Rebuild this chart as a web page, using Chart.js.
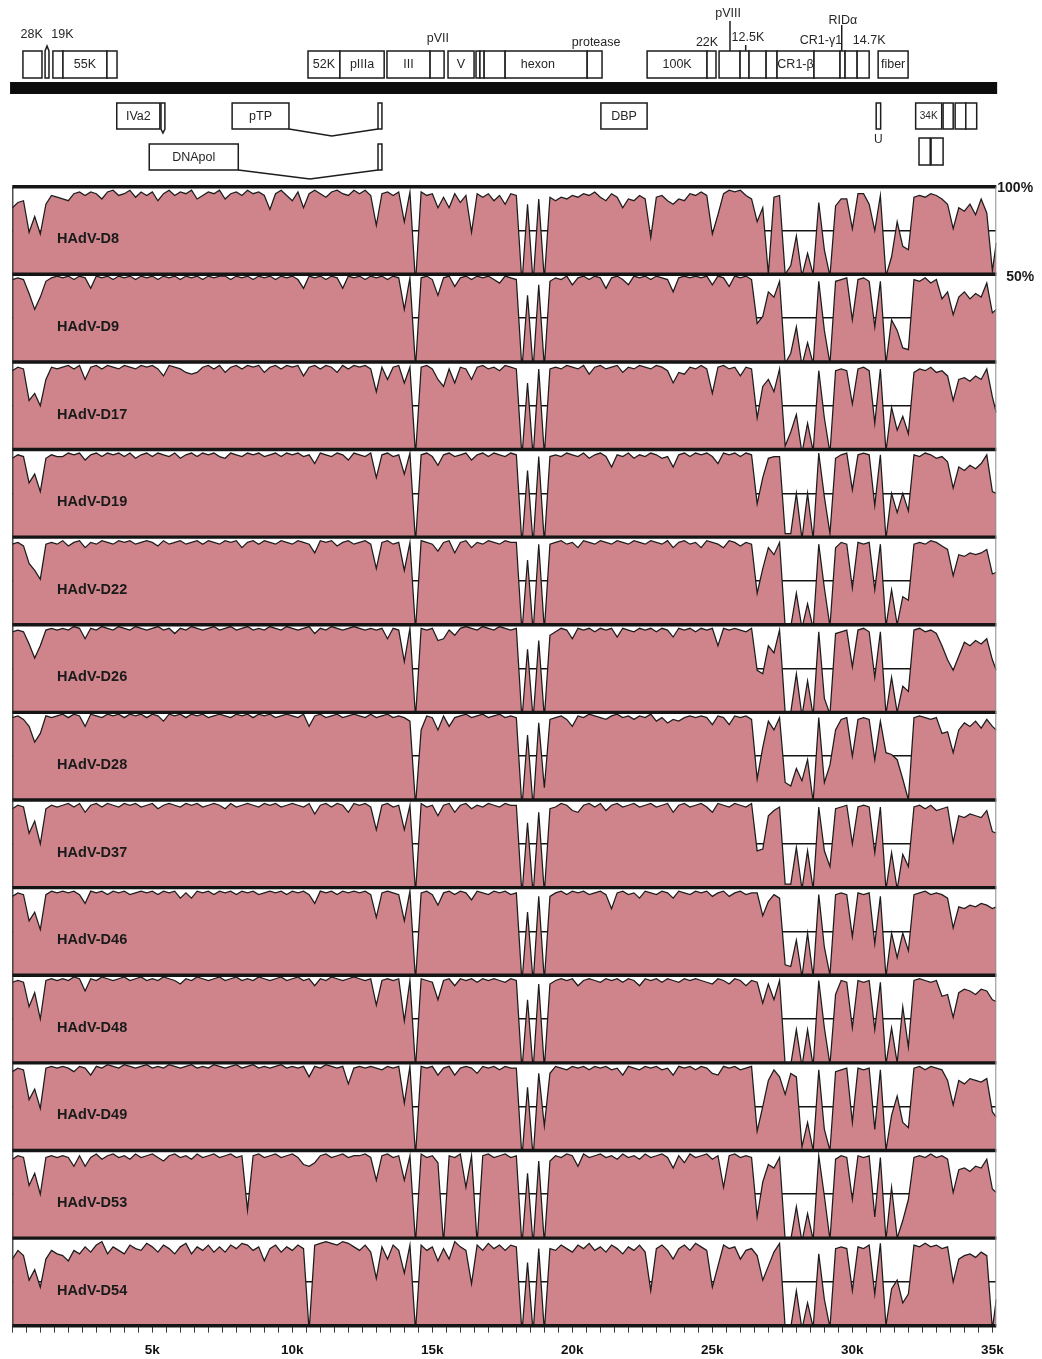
<!DOCTYPE html>
<html>
<head>
<meta charset="utf-8">
<title>HAdV-D whole-genome identity</title>
<style>
  html, body { margin: 0; padding: 0; background: #ffffff; }
  #wrap { width: 1042px; height: 1359px; }
  canvas { display: block; }
</style>
<script src="https://cdn.jsdelivr.net/npm/chart.js@4.4.1/dist/chart.umd.min.js"></script>
</head>
<body>
<div id="wrap"><canvas id="vista" width="1042" height="1359"></canvas></div>
<script>
// Sampling grid in bp: one identity value every 200 bp, plus the genome end.
const GENOME_END = 35140;
const POSITIONS = [];
for (let p = 0; p <= 35000; p += 200) POSITIONS.push(p);
POSITIONS.push(GENOME_END);

// Percent identity against the reference genome, one value per sampling position.
const HAdV_D8 = [
  88,91,92,74,83,73,90,95,94,
  93,92,96,97,95,97,96,93,97,98,95,
  96,98,94,97,95,97,92,96,98,95,
  97,96,98,93,95,97,96,98,93,96,
  97,95,98,96,97,95,87,96,98,95,
  92,97,88,96,98,96,94,97,98,96,
  95,98,
  96,98,95,78,96,97,95,97,80,97,
  45,97,95,96,88,94,88,96,91,95,
  74,96,94,96,92,95,90,96,
  95,45,90,45,93,47,94,
  92,94,93,95,94,96,95,97,94,92,
  96,94,88,93,92,95,93,71,94,95,
  92,90,93,92,96,95,97,95,73,84,
  96,98,97,98,95,93,
  80,88,50,94,95,50,55,72,49,62,
  50,91,64,49,89,93,93,76,96,96,
  90,75,95,49,60,80,66,64,94,95,
  94,96,95,93,90,76,88,86,90,84,
  93,85,52,68
];
const HAdV_D9 = [
  97,98,97,89,80,87,96,98,99,
  98,99,97,99,98,92,99,98,99,97,99,
  98,99,97,99,98,99,97,99,98,99,
  97,99,98,99,97,99,98,99,99,97,
  99,98,99,97,99,98,99,97,99,98,
  99,97,92,99,98,99,97,99,98,92,
  99,98,
  99,97,99,98,99,97,99,98,80,98,
  47,98,99,97,88,98,99,93,98,99,
  97,99,98,99,97,95,99,98,
  97,46,88,46,94,47,96,
  98,97,99,94,98,99,97,99,98,92,
  98,99,97,94,99,98,99,97,99,98,
  97,90,98,99,98,99,98,99,94,99,
  98,93,99,98,99,97,
  72,76,90,87,96,49,55,70,48,61,
  49,96,68,49,96,97,98,74,97,98,
  96,70,96,49,74,68,58,57,97,96,
  98,95,97,86,90,77,87,90,86,89,
  87,95,78,80
];
const HAdV_D17 = [
  95,97,96,78,82,75,90,97,96,
  97,98,96,98,90,97,98,96,98,97,96,
  98,97,96,98,97,98,96,92,98,97,
  96,94,93,94,97,98,96,98,94,97,
  98,96,98,97,98,94,97,98,96,98,
  97,98,92,97,98,96,98,97,94,98,
  96,98,
  97,98,96,83,97,90,97,98,88,97,
  47,97,98,96,90,86,96,88,97,96,
  90,97,98,96,97,95,98,97,
  96,46,88,46,96,47,96,
  97,96,98,97,96,98,93,97,98,96,
  97,98,94,97,96,98,97,96,98,97,
  95,88,94,93,97,96,98,96,82,97,
  98,96,97,92,97,96,
  68,86,90,83,96,52,60,70,48,65,
  49,95,68,48,95,96,95,76,96,97,
  95,65,96,49,74,61,69,59,94,96,
  95,97,94,95,92,78,90,91,89,92,
  90,96,80,71
];
const HAdV_D19 = [
  95,97,96,81,86,76,95,97,96,
  96,98,97,98,94,97,98,96,98,97,98,
  96,98,95,97,98,96,98,97,96,98,
  95,97,98,96,98,97,98,96,95,98,
  97,96,98,97,98,96,97,98,96,98,
  97,98,96,97,92,98,97,96,98,97,
  94,98,
  97,96,98,84,97,98,96,97,86,98,
  47,97,98,96,91,97,98,96,97,98,
  94,97,98,96,98,97,96,98,
  97,46,88,46,96,47,96,
  97,96,98,97,96,98,95,97,98,96,
  90,97,96,98,95,97,96,98,97,95,
  96,90,97,98,96,98,97,98,96,92,
  98,97,98,96,98,97,
  69,84,95,96,96,52,52,75,49,75,
  49,98,73,52,95,97,98,77,97,98,
  97,68,97,49,75,64,75,65,97,96,
  98,97,95,96,93,78,90,88,91,89,
  92,97,76,75
];
const HAdV_D22 = [
  96,97,95,85,81,76,96,97,96,
  98,95,97,98,94,97,96,98,97,96,98,
  97,98,96,97,98,97,95,98,96,97,
  98,96,97,98,96,98,97,96,98,97,
  98,94,97,98,96,98,97,96,98,97,
  96,98,97,96,91,98,97,98,95,97,
  98,96,
  97,98,96,82,97,98,96,97,81,97,
  47,98,97,96,92,97,98,91,97,98,
  94,97,96,98,97,96,98,97,
  97,46,87,46,96,47,96,
  97,98,96,97,94,98,97,96,98,97,
  96,98,97,96,98,97,96,98,97,96,
  98,94,97,98,96,97,94,98,97,96,
  94,98,97,95,97,96,
  68,82,94,90,97,49,49,68,48,62,
  48,96,71,49,94,97,96,71,97,96,
  97,70,96,49,70,50,66,64,96,97,
  96,98,97,95,93,78,90,89,91,90,
  91,93,79,80
];
const HAdV_D26 = [
  96,97,96,89,81,88,97,98,97,
  98,97,99,98,92,98,97,99,98,97,99,
  98,97,99,98,97,98,99,97,98,95,
  98,97,99,98,97,98,99,97,98,99,
  97,98,99,97,98,97,99,98,97,99,
  98,97,98,99,95,98,97,99,98,97,
  98,99,
  98,97,98,97,98,92,98,97,79,98,
  47,98,97,98,91,92,97,94,98,99,
  98,97,99,98,97,99,98,97,
  98,46,86,46,91,47,94,
  96,98,97,92,98,97,98,96,98,97,
  98,93,98,97,96,98,97,98,96,98,
  97,93,98,97,98,96,98,97,98,88,
  98,97,98,97,96,98,
  74,72,88,84,97,50,50,72,48,68,
  48,96,58,49,95,96,97,76,97,98,
  96,70,96,49,70,50,65,62,97,98,
  96,97,95,88,80,74,82,90,88,91,
  89,92,80,74
];
const HAdV_D28 = [
  97,98,96,92,83,88,98,97,98,
  99,97,99,98,92,99,98,97,99,98,99,
  97,99,98,99,97,99,98,95,99,98,
  99,97,99,98,99,97,98,99,98,97,
  99,98,99,97,99,98,99,97,98,99,
  98,97,99,92,98,99,97,98,99,97,
  98,99,
  98,97,99,97,98,99,97,98,97,95,
  47,90,98,97,90,98,92,97,98,99,
  97,98,99,97,98,99,97,98,
  97,46,87,46,94,57,96,
  97,98,96,92,98,97,99,98,97,96,
  98,99,97,98,96,98,97,99,95,97,
  94,96,95,97,98,97,98,97,93,98,
  97,93,98,97,98,96,
  62,80,95,90,97,60,58,68,61,73,
  49,97,60,70,90,96,97,75,96,97,
  96,73,95,77,76,73,62,50,97,98,
  97,96,97,88,89,77,90,94,92,95,
  91,96,92,90
];
const HAdV_D37 = [
  95,97,96,81,88,75,95,97,96,
  97,98,96,98,93,97,98,96,98,97,96,
  98,97,98,96,97,98,95,97,98,97,
  96,98,97,98,96,97,98,97,95,98,
  96,97,98,97,96,98,97,98,96,97,
  98,97,96,98,92,97,98,96,98,97,
  93,98,
  97,98,96,83,97,98,96,97,83,97,
  47,98,96,97,91,97,98,93,97,98,
  95,97,96,98,97,96,98,97,
  97,46,87,46,93,47,95,
  96,98,97,94,93,97,98,96,98,94,
  97,98,96,97,98,96,97,98,96,97,
  98,93,97,98,96,97,98,96,93,98,
  97,96,98,97,96,98,
  71,72,91,94,96,52,52,73,49,71,
  49,96,71,62,95,96,97,75,96,97,
  96,70,96,49,70,49,69,62,96,97,
  95,97,94,95,96,76,91,90,92,91,
  90,94,82,81
];
const HAdV_D46 = [
  95,97,96,81,86,76,96,98,97,
  98,97,98,96,91,98,97,98,96,98,97,
  98,96,97,98,97,98,96,98,97,98,
  94,97,94,98,97,98,96,98,97,98,
  96,98,97,98,96,97,98,97,98,96,
  98,97,98,96,91,98,97,98,96,98,
  97,98,
  97,98,96,83,97,98,97,96,81,98,
  47,97,98,96,90,97,98,96,98,97,
  93,98,97,96,98,97,98,96,
  97,46,86,46,95,47,95,
  97,98,96,98,97,98,96,97,98,96,
  88,97,98,96,97,94,98,97,96,98,
  97,94,98,97,96,98,97,98,95,97,
  98,95,97,98,96,97,
  97,84,92,96,94,56,55,70,49,74,
  49,96,66,50,96,97,96,72,97,96,
  97,68,95,49,74,60,74,64,96,97,
  98,96,97,96,94,77,89,88,90,89,
  91,90,88,89
];
const HAdV_D48 = [
  96,97,96,82,90,75,97,98,97,
  98,97,99,98,91,98,97,99,98,97,98,
  99,97,98,99,97,98,97,99,98,97,
  95,98,97,99,98,97,98,99,97,98,
  99,97,98,97,99,98,97,98,99,97,
  98,99,97,98,94,98,97,99,98,97,
  98,99,
  98,97,98,83,97,98,97,98,74,97,
  47,98,97,96,86,97,98,94,98,97,
  98,96,98,97,98,97,96,98,
  97,46,86,46,95,47,95,
  97,98,97,98,94,97,98,97,96,98,
  97,98,96,98,97,94,98,97,98,96,
  98,97,96,98,97,98,97,96,95,98,
  97,95,98,97,94,97,
  96,84,95,86,97,49,49,69,48,69,
  48,97,70,49,89,97,96,70,97,96,
  97,69,96,49,70,50,82,59,97,98,
  97,96,97,88,89,76,90,92,91,89,
  92,91,86,85
];
const HAdV_D49 = [
  95,97,96,79,85,74,97,98,97,
  98,97,95,98,97,93,98,97,99,98,97,
  99,98,97,98,99,97,98,97,99,98,
  97,98,99,97,98,97,99,98,97,98,
  99,97,98,99,97,98,97,98,99,97,
  98,97,98,92,98,97,99,98,97,98,
  88,97,
  98,97,98,97,96,98,97,98,77,98,
  47,98,97,98,93,97,98,93,97,98,
  97,94,98,97,98,96,98,97,
  97,46,86,46,94,64,94,
  98,97,96,98,97,98,96,98,97,98,
  96,97,93,98,97,96,98,97,98,96,
  97,93,98,97,98,96,98,97,94,93,
  98,97,98,96,97,98,
  61,75,90,96,92,82,94,92,52,66,
  50,96,62,50,95,96,97,66,97,96,
  97,62,96,50,70,81,66,63,97,98,
  96,98,97,96,90,76,90,88,91,90,
  89,91,72,69
];
const HAdV_D53 = [
  95,97,96,80,87,75,96,97,96,
  97,96,91,97,91,96,98,95,97,98,96,
  97,95,98,96,97,98,96,94,97,98,
  96,97,95,98,96,97,98,96,97,98,
  96,97,66,97,98,96,97,98,96,97,
  98,96,92,91,93,97,98,96,97,98,
  96,97,
  97,98,96,83,97,98,96,97,83,97,
  47,98,96,97,93,47,97,96,98,79,
  97,47,97,98,96,97,98,96,
  97,46,87,46,94,47,94,
  97,96,98,97,91,98,96,97,98,96,
  97,95,98,96,97,95,98,96,97,98,
  96,90,97,93,98,96,97,98,95,97,
  79,97,98,96,97,96,
  62,82,92,90,96,49,49,68,48,64,
  49,97,74,49,95,97,96,72,97,96,
  97,62,96,49,79,50,60,72,96,97,
  96,98,96,97,95,76,89,90,88,91,
  90,95,78,76
];
const HAdV_D54 = [
  88,93,90,76,82,72,88,93,91,
  90,87,93,91,95,92,96,98,91,95,93,
  91,96,94,93,97,95,92,96,94,91,
  95,97,91,95,93,96,92,95,92,96,
  94,97,96,93,95,87,94,96,92,95,
  93,96,94,47,96,97,98,97,96,98,
  97,95,
  93,96,92,77,95,88,96,93,80,96,
  47,96,93,95,87,94,88,98,95,93,
  74,96,93,97,94,96,93,96,
  95,46,86,46,94,47,94,
  93,96,94,92,96,94,97,93,95,92,
  96,94,91,95,93,96,92,70,94,96,
  93,88,94,96,93,97,95,93,72,84,
  96,94,95,88,93,94,
  90,76,84,92,97,49,49,70,48,63,
  49,91,65,49,94,95,94,70,95,94,
  96,68,97,50,71,76,63,68,96,95,
  97,95,96,94,95,75,88,90,91,89,
  92,90,48,65
];

const PANEL_NAMES = ['HAdV-D8', 'HAdV-D9', 'HAdV-D17', 'HAdV-D19', 'HAdV-D22', 'HAdV-D26', 'HAdV-D28',
                     'HAdV-D37', 'HAdV-D46', 'HAdV-D48', 'HAdV-D49', 'HAdV-D53', 'HAdV-D54'];
const PANEL_VALUES = [HAdV_D8, HAdV_D9, HAdV_D17, HAdV_D19, HAdV_D22, HAdV_D26, HAdV_D28,
                      HAdV_D37, HAdV_D46, HAdV_D48, HAdV_D49, HAdV_D53, HAdV_D54];

// Axis ticks
const TICK_STEP = 500;
const TICK_LABELLED = [5000, 10000, 15000, 20000, 25000, 30000, 35000];
const TICK_LABELS = ['5k', '10k', '15k', '20k', '25k', '30k', '35k'];
const Y_MIN = 50, Y_MID = 75, Y_MAX = 100;

// Genome annotation (bp). strand '+' above the genome bar, '-' below; row = track on that side.
const GENES = [
  { strand: '+', row: 0, start: 380,   end: 1060 },
  { strand: '+', row: 0, start: 1170,  end: 1310 },
  { strand: '+', row: 0, start: 1450,  end: 1810 },
  { strand: '+', row: 0, start: 1810,  end: 3380,  name: '55K' },
  { strand: '+', row: 0, start: 3380,  end: 3740 },
  { strand: '+', row: 0, start: 10560, end: 11700, name: '52K' },
  { strand: '+', row: 0, start: 11700, end: 13280, name: 'pIIIa' },
  { strand: '+', row: 0, start: 13380, end: 14920, name: 'III' },
  { strand: '+', row: 0, start: 14920, end: 15420 },
  { strand: '+', row: 0, start: 15560, end: 16490, name: 'V' },
  { strand: '+', row: 0, start: 16560, end: 16700 },
  { strand: '+', row: 0, start: 16700, end: 16850 },
  { strand: '+', row: 0, start: 16850, end: 17600 },
  { strand: '+', row: 0, start: 17600, end: 20530, name: 'hexon', labelAt: 18770 },
  { strand: '+', row: 0, start: 20530, end: 21060 },
  { strand: '+', row: 0, start: 22670, end: 24810, name: '100K' },
  { strand: '+', row: 0, start: 24810, end: 25130 },
  { strand: '+', row: 0, start: 25240, end: 25990 },
  { strand: '+', row: 0, start: 25990, end: 26310 },
  { strand: '+', row: 0, start: 26310, end: 26920 },
  { strand: '+', row: 0, start: 26920, end: 27310 },
  { strand: '+', row: 0, start: 27310, end: 28630, name: 'CR1-β' },
  { strand: '+', row: 0, start: 28630, end: 29560 },
  { strand: '+', row: 0, start: 29560, end: 29740 },
  { strand: '+', row: 0, start: 29740, end: 30170 },
  { strand: '+', row: 0, start: 30170, end: 30600 },
  { strand: '+', row: 0, start: 30920, end: 31990, name: 'fiber' },
  { strand: '-', row: 0, start: 3730,  end: 5270,  name: 'IVa2' },
  { strand: '-', row: 0, start: 5310,  end: 5450 },
  { strand: '-', row: 0, start: 7850,  end: 9880,  name: 'pTP' },
  { strand: '-', row: 0, start: 13060, end: 13200 },
  { strand: '-', row: 0, start: 21020, end: 22670, name: 'DBP' },
  { strand: '-', row: 0, start: 30850, end: 31010, name: 'U' },
  { strand: '-', row: 0, start: 32260, end: 33190, name: '34K' },
  { strand: '-', row: 0, start: 33240, end: 33600 },
  { strand: '-', row: 0, start: 33670, end: 34050 },
  { strand: '-', row: 0, start: 34050, end: 34440 },
  { strand: '-', row: 1, start: 32380, end: 32780 },
  { strand: '-', row: 1, start: 32810, end: 33240 },
  { strand: '-', row: 2, start: 4890,  end: 8070,  name: 'DNApol' },
  { strand: '-', row: 2, start: 13060, end: 13200 }
];
// Names written above the forward-strand boxes
const GENE_TAGS = [
  { name: '28K', at: 690 }, { name: '19K', at: 1790 }, { name: 'pVII', at: 15200 },
  { name: 'protease', at: 20850 }, { name: '22K', at: 24810 }, { name: 'pVIII', at: 25560 },
  { name: '12.5K', at: 26270 }, { name: 'CR1-γ1', at: 28880 }, { name: 'RIDα', at: 29660 },
  { name: '14.7K', at: 30600 }
];
// Small ORFs marked with a stem
const GENE_MARKS = [ { name: 'pVIII', at: 25630 }, { name: '12.5K', at: 26190 }, { name: 'RIDα', at: 29620 } ];
// Spliced ORFs: last base of exon 1, intron apex, first base of exon 2
const SPLICES = [ { row: 0, from: 9880, via: 11410, to: 13060 }, { row: 2, from: 8070, via: 10630, to: 13060 } ];

const FONT = '"Liberation Sans", Arial, Helvetica, sans-serif';
const PINK = '#cf848b';
const INK = '#151515';

// ---- scales: one shared x axis, a stack of 13 identity axes ----
const scales = {
  x: {
    type: 'linear', position: 'bottom', min: 0, max: GENOME_END,
    afterBuildTicks(ax) {
      const t = [];
      for (let v = 0; v <= 35000; v += TICK_STEP) t.push({ value: v });
      ax.ticks = t;
    },
    afterFit(ax) { ax.height = 33.3; ax.paddingLeft = 0; ax.paddingRight = 0; },
    grid: { drawOnChartArea: false, drawTicks: true, tickLength: 7, tickColor: '#3c3c3c', tickWidth: 1 },
    border: { display: false },
    ticks: {
      autoSkip: false, maxRotation: 0, minRotation: 0, padding: 9, color: '#111',
      font: { family: FONT, size: 13.5, weight: 'bold' },
      callback(v) { const k = TICK_LABELLED.indexOf(v); return k < 0 ? '' : TICK_LABELS[k]; }
    }
  }
};
PANEL_NAMES.forEach((name, k) => {
  scales['p' + k] = {
    type: 'linear', position: 'right', stack: 'panels', stackWeight: 1,
    min: Y_MIN, max: Y_MAX,
    afterBuildTicks(ax) { ax.ticks = [{ value: Y_MID }]; },
    afterFit(ax) { ax.width = 0; },
    grid: { color: INK, lineWidth: 1.6, drawTicks: false },
    border: { display: false },
    ticks: { display: false }
  };
});

const datasets = PANEL_VALUES.map((vals, k) => ({
  label: PANEL_NAMES[k],
  xAxisID: 'x', yAxisID: 'p' + k,
  data: POSITIONS.map((p, i) => ({ x: p, y: vals[i] })),
  borderColor: '#1c1c1c', borderWidth: 1.25,
  backgroundColor: PINK,
  fill: { target: 'start', above: PINK, below: 'rgba(0,0,0,0)' },
  pointRadius: 0, tension: 0, clip: 0
}));

// Panel rules, frame, names and the 100% / 50% marks
const panelDecor = {
  id: 'panelDecor',
  afterDatasetsDraw(chart) {
    const { ctx, chartArea: a } = chart;
    const n = PANEL_NAMES.length;
    const xs = chart.scales.x;
    ctx.save();
    ctx.strokeStyle = INK;
    ctx.lineWidth = 3.4;
    const rule = (y) => { ctx.beginPath(); ctx.moveTo(a.left, y); ctx.lineTo(a.right, y); ctx.stroke(); };
    for (let k = 0; k < n; k++) rule(chart.scales['p' + k].getPixelForValue(Y_MAX));
    rule(chart.scales['p' + (n - 1)].getPixelForValue(Y_MIN));

    ctx.lineWidth = 1.2; ctx.strokeStyle = '#222';
    ctx.beginPath(); ctx.moveTo(a.left + 0.5, a.top); ctx.lineTo(a.left + 0.5, a.bottom); ctx.stroke();
    ctx.lineWidth = 1; ctx.strokeStyle = '#8c8c8c';
    ctx.beginPath(); ctx.moveTo(a.right - 0.5, a.top); ctx.lineTo(a.right - 0.5, a.bottom); ctx.stroke();

    ctx.fillStyle = '#1a1a1a';
    ctx.font = 'bold 14.5px ' + FONT;
    ctx.textBaseline = 'middle';
    ctx.textAlign = 'left';
    PANEL_NAMES.forEach((name, k) => {
      ctx.fillText(name, xs.getPixelForValue(1600), chart.scales['p' + k].getPixelForValue(70));
    });
    const first = chart.scales.p0;
    ctx.font = 'bold 14px ' + FONT;
    ctx.fillText('100%', a.right + 1, first.getPixelForValue(Y_MAX) + 1);
    ctx.fillText('50%', a.right + 10, first.getPixelForValue(Y_MIN) + 3);
    ctx.restore();
  }
};

// Genome map drawn against the same x scale
const genomeMap = {
  id: 'genomeMap',
  afterDraw(chart) {
    const { ctx } = chart;
    const xs = chart.scales.x;
    const px = (bp) => xs.getPixelForValue(bp);
    const ROWS = { '+0': [51, 78], '-0': [103, 129], '-1': [138, 165], '-2': [144, 170] };
    const TAG_Y = { '28K': 35, '19K': 35, 'pVII': 39, 'protease': 42.5, '22K': 42.5, 'pVIII': 14,
                    '12.5K': 38, 'CR1-γ1': 40.5, 'RIDα': 20.5, '14.7K': 40.5 };
    const MARK_TOP = { 'pVIII': 21, '12.5K': 45, 'RIDα': 25 };
    const POINT_UP = 1170, POINT_DOWN = 5310;

    ctx.save();
    ctx.fillStyle = '#0c0c0c';
    ctx.fillRect(px(-80), 82, px(35170) - px(-80), 12);

    ctx.lineWidth = 1.5;
    ctx.strokeStyle = '#1d1d1d';
    ctx.lineJoin = 'miter';

    SPLICES.forEach(sp => {
      const b = ROWS['-' + sp.row][1];
      const drop = sp.row === 2 ? 9 : 7;
      ctx.beginPath();
      ctx.moveTo(px(sp.from), b);
      ctx.lineTo(px(sp.via), b + drop);
      ctx.lineTo(px(sp.to), b);
      ctx.stroke();
    });

    GENE_MARKS.forEach(m => {
      ctx.beginPath();
      ctx.moveTo(px(m.at), MARK_TOP[m.name]);
      ctx.lineTo(px(m.at), ROWS['+0'][0]);
      ctx.stroke();
    });

    GENES.forEach(g => {
      const [t, b] = ROWS[g.strand + g.row];
      const x0 = px(g.start), x1 = px(g.end), xm = (x0 + x1) / 2;
      ctx.beginPath();
      if (g.strand === '+' && g.start === POINT_UP) {
        ctx.moveTo(x0, b); ctx.lineTo(x0, t); ctx.lineTo(xm, t - 5); ctx.lineTo(x1, t); ctx.lineTo(x1, b); ctx.closePath();
      } else if (g.strand === '-' && g.start === POINT_DOWN) {
        ctx.moveTo(x0, t); ctx.lineTo(x1, t); ctx.lineTo(x1, b); ctx.lineTo(xm, b + 4); ctx.lineTo(x0, b); ctx.closePath();
      } else {
        ctx.rect(x0, t, x1 - x0, b - t);
      }
      ctx.fillStyle = '#ffffff';
      ctx.fill();
      ctx.stroke();
    });

    ctx.fillStyle = '#262626';
    ctx.textAlign = 'center';
    ctx.textBaseline = 'middle';
    GENES.forEach(g => {
      if (!g.name) return;
      const [t, b] = ROWS[g.strand + g.row];
      const x = px(g.labelAt !== undefined ? g.labelAt : (g.start + g.end) / 2);
      if (g.name === 'U') {
        ctx.font = '12px ' + FONT;
        ctx.fillText(g.name, x, b + 11);
      } else if (g.name === '34K') {
        ctx.font = '10px ' + FONT;
        ctx.fillText(g.name, x, (t + b) / 2);
      } else {
        ctx.font = '12.5px ' + FONT;
        ctx.fillText(g.name, x, (t + b) / 2 + 0.5);
      }
    });
    ctx.font = '12.5px ' + FONT;
    GENE_TAGS.forEach(tag => ctx.fillText(tag.name, px(tag.at), TAG_Y[tag.name]));
    ctx.restore();
  }
};

new Chart(document.getElementById('vista'), {
  type: 'line',
  data: { datasets },
  options: {
    responsive: false,
    animation: false,
    devicePixelRatio: 1,
    events: [],
    layout: { padding: { left: 12.3, right: 45.7, top: 186.7, bottom: 0 } },
    scales,
    plugins: { legend: { display: false }, tooltip: { enabled: false } }
  },
  plugins: [panelDecor, genomeMap]
});
</script>
</body>
</html>
